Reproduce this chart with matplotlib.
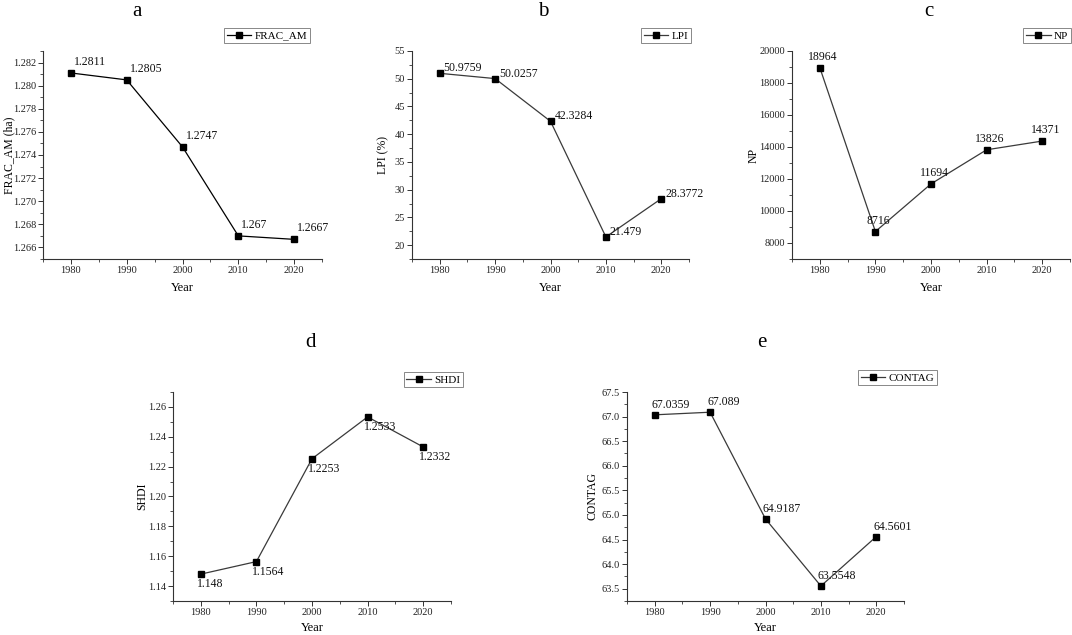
import matplotlib
matplotlib.use("Agg")
from matplotlib import pyplot as plt
from matplotlib.ticker import MultipleLocator, FormatStrFormatter

plt.rcParams["font.family"] = ["Liberation Serif", "DejaVu Serif"]

# data
years = [1980, 1990, 2000, 2010, 2020]
frac_am = [1.2811, 1.2805, 1.2747, 1.267, 1.2667]
lpi = [50.9759, 50.0257, 42.3284, 21.479, 28.3772]
np_vals = [18964, 8716, 11694, 13826, 14371]
shdi = [1.148, 1.1564, 1.2253, 1.2533, 1.2332]
contag = [67.0359, 67.089, 64.9187, 63.5548, 64.5601]
letters = ["a", "b", "c", "d", "e"]

W, H = 1072, 635
fig = plt.figure(figsize=(W / 100, H / 100), dpi=100)


def px_axes(l, r, t, b):
    return fig.add_axes([l / W, 1 - b / H, (r - l) / W, (b - t) / H])


# name, values, ylabel, rect(l,r,t,b), ylim, major, minor, fmt, title pos, legend corner,
# label offset, label align, line color, ylabel distance, xlabel distance
panels = [
    ("FRAC_AM", frac_am, "FRAC_AM (ha)", (43, 322, 51, 259), (1.265, 1.283), 0.002, 0.001, "%.3f",
     (137, 12), (310, 28), (3, 5), ("left", "bottom"), "#000000", 28, 23),
    ("LPI", lpi, "LPI (%)", (412, 689, 51, 259), (17.5, 55), 5, 2.5, "%d",
     (543, 12), (691, 28), (4, 5), ("left", "center"), "#3a3a3a", 23, 23),
    ("NP", np_vals, "NP", (792, 1070, 51, 259), (7000, 20000), 2000, 1000, "%d",
     (929, 12), (1071, 28), (3, 5), ("center", "bottom"), "#3a3a3a", 32, 23),
    ("SHDI", shdi, "SHDI", (173, 451, 392, 601), (1.13, 1.27), 0.02, 0.01, "%.2f",
     (310, 343), (463, 372), (-4, -4), ("left", "top"), "#3a3a3a", 25, 21),
    ("CONTAG", contag, "CONTAG", (627, 904, 392, 601), (63.25, 67.5), 0.5, 0.25, "%.1f",
     (762, 343), (937, 370), (-3, 4), ("left", "bottom"), "#3a3a3a", 28, 21),
]

for i, (name, vals, ylab, rect, ylim, major, minor, fmt,
        tpos, lpos, off, align, col, ylpad, xlpad) in enumerate(panels):
    l, r, t, b = rect
    ax = px_axes(l, r, t, b)
    ax.plot(years, vals, color=col, lw=0.9, marker="s", markersize=4.3,
            markerfacecolor="black", markeredgecolor="black", label=name)
    for x, v in zip(years, vals):
        ax.annotate(str(v), (x, v), xytext=off, textcoords="offset pixels",
                    ha=align[0], va=align[1], fontsize=8.5, color="#111111")

    ax.set_xlim(1975, 2025)
    ax.set_ylim(*ylim)
    ax.xaxis.set_major_locator(MultipleLocator(10))
    ax.xaxis.set_minor_locator(MultipleLocator(5))
    ax.yaxis.set_major_locator(MultipleLocator(major))
    ax.yaxis.set_minor_locator(MultipleLocator(minor))
    ax.yaxis.set_major_formatter(FormatStrFormatter(fmt))

    for s in ["top", "right"]:
        ax.spines[s].set_visible(False)
    for s in ["left", "bottom"]:
        ax.spines[s].set_linewidth(0.8)
        ax.spines[s].set_color("#333333")
    ax.tick_params(which="major", direction="out", length=3.5, width=0.7,
                   labelsize=7.5, colors="#333333", labelcolor="#222222", pad=1.5)
    ax.tick_params(which="minor", direction="out", length=2, width=0.6, colors="#333333")

    ax.set_xlabel("Year", fontsize=9)
    ax.xaxis.set_label_coords(0.5, -xlpad / (b - t))
    ax.set_ylabel(ylab, fontsize=8.5)
    ax.yaxis.set_label_coords(-ylpad / (r - l), 0.5)

    fig.text(tpos[0] / W, 1 - tpos[1] / H, letters[i], fontsize=15, ha="center", va="center")

    leg = ax.legend(loc="upper right", bbox_to_anchor=(lpos[0] / W, 1 - lpos[1] / H),
                    bbox_transform=fig.transFigure, borderaxespad=0, fontsize=8,
                    fancybox=False, handlelength=2.2, handletextpad=0.3,
                    borderpad=0.25, numpoints=1, framealpha=1)
    leg.get_frame().set_edgecolor("#888888")
    leg.get_frame().set_linewidth(0.7)

fig.savefig("out.png", dpi=100)
